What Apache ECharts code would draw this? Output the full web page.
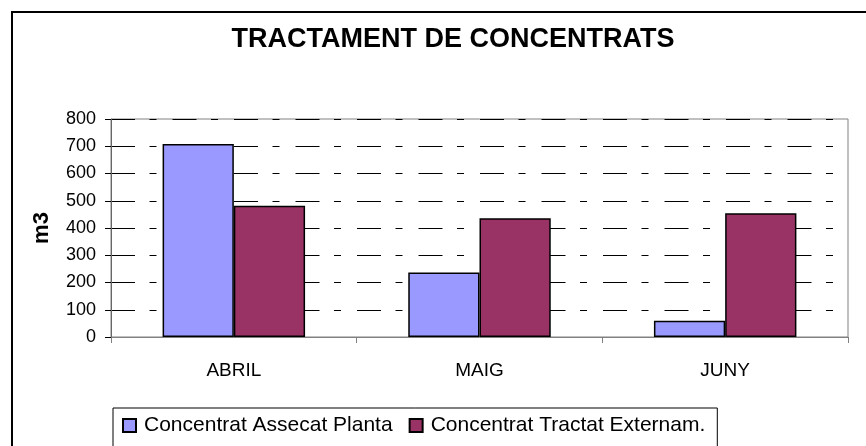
<!DOCTYPE html>
<html>
<head>
<meta charset="utf-8">
<script src="https://cdn.jsdelivr.net/npm/echarts@6/dist/echarts.min.js"></script>
<style>
html,body{margin:0;padding:0;background:#fff;}
#chart{width:866px;height:446px;}
</style>
</head>
<body>
<div id="chart"></div>
<script>
const categories = ['ABRIL', 'MAIG', 'JUNY'];
const seriesNames = ['Concentrat Assecat Planta', 'Concentrat Tractat Externam.'];
const assecatPlanta = [708, 237, 60];
const tractatExternam = [482, 436, 454];
const yTicks = [0, 100, 200, 300, 400, 500, 600, 700, 800];

const FONT = '"Liberation Sans", Arial, sans-serif';
const chart = echarts.init(document.getElementById('chart'), null, {renderer: 'canvas'});
chart.setOption({
  animation: false,
  backgroundColor: '#fff',
  textStyle: {fontFamily: FONT, color: '#000'},
  title: {
    text: 'TRACTAMENT DE CONCENTRATS',
    left: 448, top: 21, textAlign: 'center',
    textStyle: {fontFamily: FONT, fontSize: 27, fontWeight: 'bold', color: '#000'}
  },
  graphic: [{
    type: 'rect', z: -1, silent: true,
    shape: {x: 12, y: 12, width: 900, height: 500},
    style: {fill: 'none', stroke: '#000', lineWidth: 2}
  }],
  legend: {
    left: 113, top: 408,
    data: seriesNames,
    itemWidth: 13, itemHeight: 13, itemGap: 16,
    padding: [7, 12, 20, 9],
    borderColor: '#000', borderWidth: 1,
    icon: 'rect',
    textStyle: {fontFamily: FONT, fontSize: 21, color: '#000', padding: [0, 0, 0, 3]}
  },
  grid: {
    left: 111, top: 119, right: 18, bottom: 109,
    show: true, borderColor: '#808080', borderWidth: 1, backgroundColor: 'transparent'
  },
  xAxis: {
    type: 'category',
    data: categories,
    axisLine: {lineStyle: {color: '#808080', width: 1}},
    axisTick: {show: true, alignWithLabel: false, length: 6, lineStyle: {color: '#808080'}},
    axisLabel: {fontFamily: FONT, fontSize: 19, color: '#000', margin: 24}
  },
  yAxis: {
    type: 'value',
    min: yTicks[0], max: yTicks[yTicks.length - 1], interval: 100,
    name: 'm3', nameLocation: 'middle', nameRotate: 90, nameGap: 58,
    nameTextStyle: {fontFamily: FONT, fontSize: 22, fontWeight: 'bold', color: '#000'},
    axisLine: {show: true, lineStyle: {color: '#666', width: 1}},
    axisTick: {show: true, length: 6, lineStyle: {color: '#000'}},
    axisLabel: {fontFamily: FONT, fontSize: 18, color: '#000', margin: 15},
    splitLine: {
      show: true,
      lineStyle: {color: '#000', width: 1, type: [24, 14.5, 7, 16], dashOffset: 0}
    }
  },
  series: [{
    name: seriesNames[0], type: 'bar', data: assecatPlanta,
    barGap: '0%', barCategoryGap: '42%',
    itemStyle: {color: '#9999FF', borderColor: '#000', borderWidth: 1.5}
  }, {
    name: seriesNames[1], type: 'bar', data: tractatExternam,
    barGap: '0%', barCategoryGap: '42%',
    itemStyle: {color: '#993366', borderColor: '#000', borderWidth: 1.5}
  }]
});
</script>
</body>
</html>
